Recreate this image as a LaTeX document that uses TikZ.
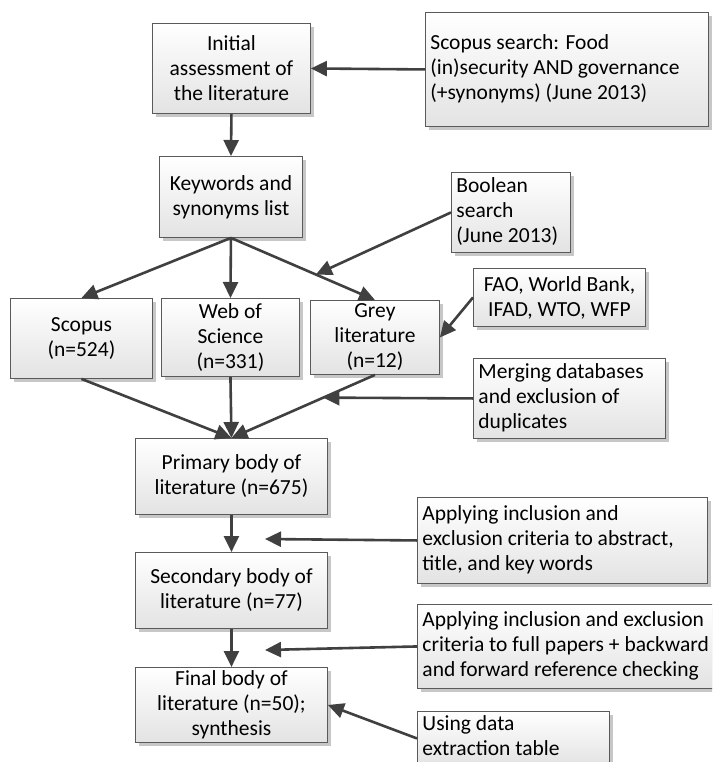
\documentclass[tikz,border=0pt]{standalone}
\usepackage{fontspec}
\setmainfont{Carlito}
\usetikzlibrary{arrows.meta,calc}
\definecolor{edgec}{HTML}{5A5A5A}
\definecolor{arrc}{HTML}{404040}
\newcommand\lefttext[2]{\makebox[#1][l]{\begin{tabular}{@{}l@{}}#2\end{tabular}}}
\begin{document}
\begin{tikzpicture}[x=1pt,y=-1pt,
  box/.style={draw=edgec, line width=0.9pt, top color=white, bottom color=black!11,
    inner sep=0pt, anchor=north west, font=\fontsize{21.5}{25}\selectfont,
    preaction={fill=black!22, transform canvas={xshift=3.5pt,yshift=-3.5pt}}},
  cbox/.style={box, align=center},
  arrow/.style={draw=arrc, line width=2.6pt, -{Triangle[length=16pt,width=15pt]}}]
\fill[white] (0,0) rectangle (712,762);
\useasboundingbox (0,0) rectangle (712,762);
\clip (0,0) rectangle (712,762);

\node[cbox, minimum width=158pt, minimum height=90pt] (init) at (152,23) {Initial\\assessment of\\the literature};
\node[box, minimum width=283pt, minimum height=114pt] (ss) at (425,12) {\lefttext{273pt}{Scopus search: Food\\(in)security AND governance\\(+synonyms) (June 2013)}};
\node[cbox, minimum width=143pt, minimum height=81pt] (kw) at (159,156) {Keywords and\\synonyms list};
\node[box, minimum width=119pt, minimum height=80pt] (bool) at (451,172) {\lefttext{109pt}{Boolean\\search\\(June 2013)}};
\node[cbox, minimum width=142pt, minimum height=80pt] (scop) at (10,298) {Scopus\\(n=524)};
\node[cbox, minimum width=138pt, minimum height=78pt] (web) at (161,298) {Web of\\Science\\(n=331)};
\node[cbox, minimum width=129pt, minimum height=74pt] (grey) at (310,300) {Grey\\literature\\(n=12)};
\node[cbox, minimum width=172pt, minimum height=58pt] (fao) at (473,268) {FAO, World Bank,\\IFAD, WTO, WFP};
\node[box, minimum width=192pt, minimum height=80pt] (merge) at (473,358) {\lefttext{182pt}{Merging databases\\and exclusion of\\duplicates}};
\node[cbox, minimum width=192pt, minimum height=76pt] (prim) at (135,438) {Primary body of\\literature (n=675)};
\node[box, minimum width=290pt, minimum height=86pt] (app1) at (417,497) {\lefttext{280pt}{Applying inclusion and\\exclusion criteria to abstract,\\title, and key words}};
\node[cbox, minimum width=192pt, minimum height=76pt] (sec) at (135,552) {Secondary body of\\literature (n=77)};
\node[box, minimum width=300pt, minimum height=84pt] (app2) at (417,604) {\lefttext{290pt}{Applying inclusion and exclusion\\criteria to full papers + backward\\and forward reference checking}};
\node[cbox, minimum width=192pt, minimum height=75pt] (final) at (135,667) {Final body of\\literature (n=50);\\synthesis};
\node[box, minimum width=192pt, minimum height=54pt] (using) at (417,711) {\lefttext{182pt}{Using data\\extraction table}};

\coordinate (bj) at ($(kw.south)!0.59!(grey.north)$);
\coordinate (mj) at ($(grey.south)!0.36!(prim.north)$);
\coordinate (a1) at (265,539);
\coordinate (a2) at (265,650);

\draw[arrow] (ss.west) -- (init.east);
\draw[arrow] (init.south) -- (kw.north);
\draw[arrow] (kw.south) -- (scop.north);
\draw[arrow] (kw.south) -- (web.north);
\draw[arrow] (kw.south) -- (grey.north);
\draw[arrow] (bool.west) -- (bj);
\draw[arrow] (fao.west) -- (grey.east);
\draw[arrow] (scop.south) -- (prim.north);
\draw[arrow] (web.south) -- (prim.north);
\draw[arrow] (grey.south) -- (prim.north);
\draw[arrow] (merge.west) -- (mj);
\draw[arrow] (prim.south) -- (sec.north);
\draw[arrow] (app1.west) -- (a1);
\draw[arrow] (sec.south) -- (final.north);
\draw[arrow] (app2.west) -- (a2);
\draw[arrow] (using.west) -- (final.east);
\end{tikzpicture}
\end{document}
